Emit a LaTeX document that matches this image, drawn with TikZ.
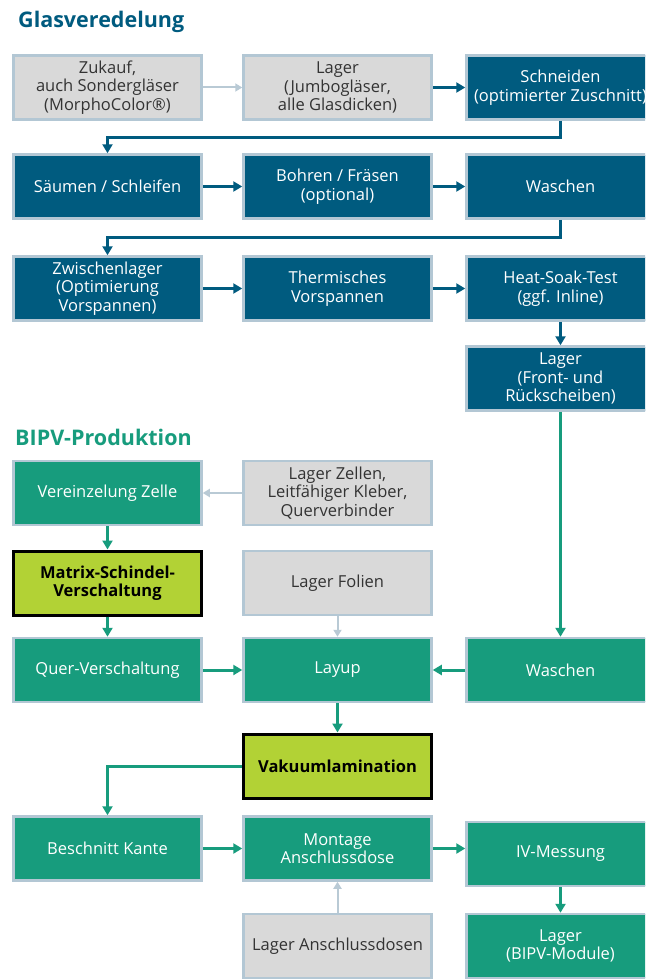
\documentclass[tikz,border=0pt]{standalone}
\usepackage{fontspec}
\setmainfont{Open Sans}
\usetikzlibrary{arrows.meta,calc}
\definecolor{dblue}{HTML}{005B7F}
\definecolor{fgreen}{HTML}{179C7D}
\definecolor{lime}{HTML}{B2D235}
\definecolor{greyfill}{HTML}{D9D9D9}
\definecolor{bordc}{HTML}{B3C7D4}
\definecolor{greyarr}{HTML}{B9CAD5}
\definecolor{txtgrey}{HTML}{333333}
\tikzset{
  box/.style={draw=bordc, line width=2.5pt, minimum width=188pt, minimum height=64pt,
    inner sep=2pt, align=center, font=\fontsize{16.5}{18.5}\selectfont},
  bluebox/.style={box, fill=dblue, text=white},
  greenbox/.style={box, fill=fgreen, text=white},
  greybox/.style={box, fill=greyfill, text=txtgrey},
  limebox/.style={box, draw=black, line width=3pt, fill=lime, text=black,
    font=\fontsize{16.5}{18.5}\selectfont\bfseries},
  blarr/.style={draw=dblue, line width=3pt, -{Triangle[length=9pt,width=10pt]}},
  grarr/.style={draw=fgreen, line width=3pt, -{Triangle[length=9pt,width=10pt]}},
  gyarr/.style={draw=greyarr, line width=2pt, -{Triangle[length=7pt,width=8pt]}},
  title/.style={anchor=west, font=\fontsize{21.5}{24}\selectfont\bfseries, inner sep=0pt}
}
\begin{document}
\begin{tikzpicture}[x=1pt,y=-1pt]
\useasboundingbox (0,0) rectangle (645,979);
\clip (0,0) rectangle (645,979);
\fill[white] (0,0) rectangle (645,979);

\node[title, text=dblue] (t1) at (18,22) {Glasveredelung};
\node[title, text=fgreen] (t2) at (15,437) {BIPV-Produktion};

% Glasveredelung
\node[greybox] (zuk) at (107.5,87.5) {Zukauf,\\auch Sondergläser\\(MorphoColor®)};
\node[greybox] (lag1) at (337.5,87.5) {Lager\\(Jumbogläser,\\alle Glasdicken)};
\node[bluebox] (schn) at (560.5,87.5) {Schneiden\\(optimierter Zuschnitt)};
\node[bluebox] (saeu) at (107.5,186.5) {Säumen / Schleifen};
\node[bluebox] (bohr) at (337.5,186.5) {Bohren / Fräsen\\(optional)};
\node[bluebox] (wa1) at (560.5,186.5) {Waschen};
\node[bluebox] (zwi) at (107.5,288.5) {Zwischenlager\\(Optimierung\\Vorspannen)};
\node[bluebox] (therm) at (337.5,288.5) {Thermisches\\Vorspannen};
\node[bluebox] (heat) at (560.5,288.5) {Heat-Soak-Test\\(ggf. Inline)};
\node[bluebox] (lag2) at (560.5,378.5) {Lager\\(Front- und\\Rückscheiben)};

\draw[gyarr] (zuk) -- (lag1);
\draw[blarr] (lag1) -- (schn);
\draw[blarr] (schn.south) -- ++(0,17) -| (saeu.north);
\draw[blarr] (saeu) -- (bohr);
\draw[blarr] (bohr) -- (wa1);
\draw[blarr] (wa1.south) -- ++(0,18) -| (zwi.north);
\draw[blarr] (zwi) -- (therm);
\draw[blarr] (therm) -- (heat);
\draw[blarr] (heat) -- (lag2);

% BIPV
\node[greenbox] (verein) at (107.5,493) {Vereinzelung Zelle};
\node[greybox] (lagz) at (337.5,493) {Lager Zellen,\\Leitfähiger Kleber,\\Querverbinder};
\node[limebox] (matrix) at (107.5,583) {Matrix-Schindel-\\Verschaltung};
\node[greybox] (lagf) at (337.5,583) {Lager Folien};
\node[greenbox] (quer) at (107.5,670) {Quer-Verschaltung};
\node[greenbox] (layup) at (337.5,670) {Layup};
\node[greenbox] (wa2) at (560.5,670) {Waschen};
\node[limebox] (vak) at (337.5,766) {Vakuumlamination};
\node[greenbox] (besch) at (107.5,848.5) {Beschnitt Kante};
\node[greenbox] (mont) at (337.5,848.5) {Montage\\Anschlussdose};
\node[greenbox] (iv) at (560.5,854) {IV-Messung};
\node[greybox] (laga) at (337.5,946) {Lager Anschlussdosen};
\node[greenbox] (lagb) at (560.5,946) {Lager\\(BIPV-Module)};

\draw[grarr] (lag2) -- (wa2);
\draw[gyarr] (lagz) -- (verein);
\draw[grarr] (verein) -- (matrix);
\draw[grarr] (matrix) -- (quer);
\draw[gyarr] (lagf) -- (layup);
\draw[grarr] (quer) -- (layup);
\draw[grarr] (wa2) -- (layup);
\draw[grarr] (layup) -- (vak);
\draw[grarr] (vak.west) -| (besch.north);
\draw[grarr] (besch) -- (mont);
\draw[grarr] (mont.east) -- (iv.west |- mont.east);
\draw[gyarr] (laga) -- (mont);
\draw[grarr] (iv) -- (lagb);
\end{tikzpicture}
\end{document}
